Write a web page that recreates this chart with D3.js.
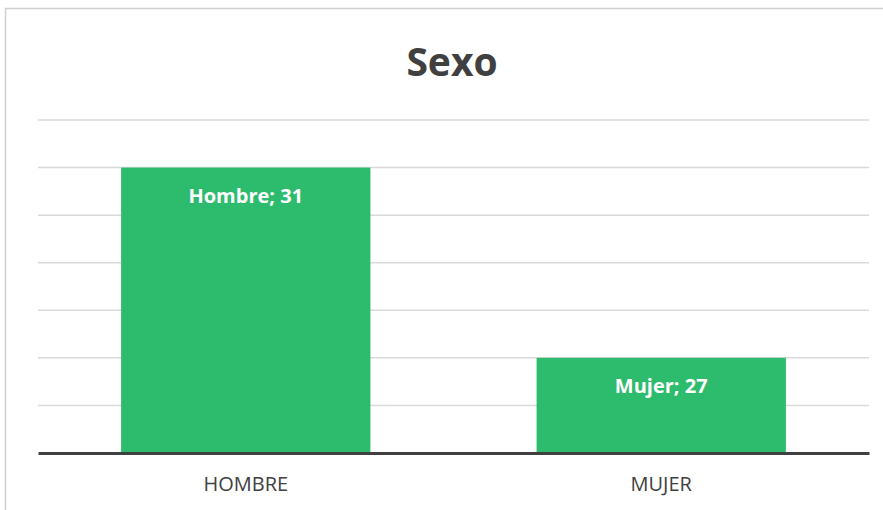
<!DOCTYPE html>
<html><head><meta charset="utf-8">
<script src="https://cdn.jsdelivr.net/npm/d3@7"></script>
<style>body{margin:0;background:#fff;}svg{display:block;}</style>
</head><body>
<svg id="c" width="883" height="510"></svg>
<script>
const categories = ["Hombre", "Mujer"];
const axisLabels = ["HOMBRE", "MUJER"];
const values = [31, 27];
const gridTicks = [25, 26, 27, 28, 29, 30, 31, 32];

const svg = d3.select("#c");
const W = 883, H = 510;
const m = {l: 38, r: 14, t: 120, b: 57};

svg.append("rect").attr("x", 5.5).attr("y", 8.5).attr("width", 900).attr("height", 600)
  .attr("fill", "#fff").attr("stroke", "#d0d0d0").attr("stroke-width", 1.5);

const x = d3.scaleBand().domain(categories).range([m.l, W - m.r]).paddingInner(0.4).paddingOuter(0.2);
const y = d3.scaleLinear().domain([25, 32]).range([H - m.b, m.t]);

svg.append("g").selectAll("line").data(gridTicks.slice(1)).join("line")
  .attr("x1", m.l).attr("x2", W - m.r)
  .attr("y1", d => y(d)).attr("y2", d => y(d))
  .attr("stroke", "#d9d9d9").attr("stroke-width", 1.5);

svg.append("g").selectAll("rect").data(values).join("rect")
  .attr("x", (d, i) => x(categories[i])).attr("width", x.bandwidth())
  .attr("y", d => y(d)).attr("height", d => y(25) - y(d))
  .attr("fill", "#29bb6a").attr("fill-opacity", 0.98);

svg.append("g").selectAll("text").data(values).join("text")
  .attr("x", (d, i) => x(categories[i]) + x.bandwidth() / 2)
  .attr("y", d => y(d) + 35)
  .attr("text-anchor", "middle").attr("fill", "#fff")
  .attr("font-family", "Open Sans, sans-serif").attr("font-weight", "bold").attr("font-size", 20)
  .text((d, i) => categories[i] + "; " + d);

const xAxis = svg.append("g").attr("transform", `translate(0,${y(25)})`)
  .call(d3.axisBottom(x).tickSize(0).tickFormat((d, i) => axisLabels[i]));
xAxis.select(".domain").attr("stroke", "#404040").attr("stroke-width", 3);
xAxis.selectAll("text").attr("dy", 0).attr("y", 38)
  .attr("font-family", "Open Sans, sans-serif").attr("font-size", 20).attr("fill", "#404040");

svg.append("text").attr("x", 452).attr("y", 76).attr("text-anchor", "middle")
  .attr("font-family", "Open Sans, sans-serif").attr("font-weight", "bold").attr("font-size", 39)
  .attr("fill", "#404040").text("Sexo");
</script>
</body></html>
